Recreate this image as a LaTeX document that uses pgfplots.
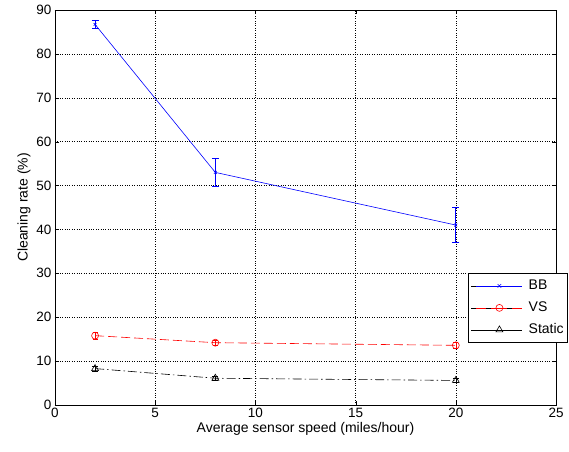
\documentclass[border=0pt]{standalone}
\usepackage{fontspec}
\setmainfont{Liberation Sans}
\usepackage{pgfplots}
\pgfplotsset{compat=1.18}
\begin{document}
\begin{tikzpicture}
\useasboundingbox (0pt,0pt) rectangle (569pt,451pt);
\begin{axis}[
  at={(55pt,46pt)}, anchor=south west,
  scale only axis, width=501pt, height=395pt,
  xmin=0, xmax=25, ymin=0, ymax=90,
  xtick={0,5,...,25}, ytick={0,10,...,90},
  tick align=inside, tick pos=both,
  major tick length=4pt,
  grid=major,
  major grid style={black, dotted, line width=0.5pt},
  axis line style={black, line width=0.6pt},
  tick style={black},
  ticklabel style={font=\fontsize{13.5}{14}\selectfont},
  /pgf/number format/assume math mode=true,
  xlabel={Average sensor speed (miles/hour)},
  ylabel={Cleaning rate (\%)},
  label style={font=\fontsize{14}{15}\selectfont},
  xlabel style={yshift=3pt},
  ylabel style={yshift=-1pt},
  legend style={at={(0.824,0.334)}, anchor=north west,
    font=\fontsize{14}{15}\selectfont, draw=black, line width=0.6pt,
    fill=white, inner xsep=3pt, inner ysep=5pt, row sep=7pt, column sep=5pt,
    nodes={inner sep=1pt, text height=10pt, text depth=3pt}},
  legend cell align=left,
]
% BB
\addplot[blue, line width=0.6pt, mark=x, mark size=2pt, forget plot,
  error bars/.cd, y dir=both, y explicit, error mark=-,
  error bar style={line width=0.8pt}, error mark options={rotate=90, mark size=3.5pt, line width=0.8pt}]
  coordinates {(2,86.7) +- (0,0.9) (8,53.0) +- (0,3.2) (20,41.0) +- (0,4.0)};
% VS
\addplot[red, line width=0.6pt, dash pattern=on 9pt off 4pt, mark=o, mark size=3.5pt,
  mark options={solid}, forget plot,
  error bars/.cd, y dir=both, y explicit, error mark=-,
  error bar style={solid, line width=0.6pt}, error mark options={rotate=90, mark size=2.5pt}]
  coordinates {(2,15.8) +- (0,0.8) (8,14.2) +- (0,0.6) (20,13.6) +- (0,0.6)};
% Static
\addplot[black, line width=0.6pt, dash pattern=on 9pt off 3pt on 1.5pt off 3pt, mark=triangle, mark size=4pt,
  mark options={solid}, forget plot,
  error bars/.cd, y dir=both, y explicit, error mark=-,
  error bar style={solid, line width=0.6pt}, error mark options={rotate=90, mark size=3pt}]
  coordinates {(2,8.3) +- (0,0.5) (8,6.1) +- (0,0.4) (20,5.6) +- (0,0.5)};
% legend entries, each with its own sample of the line style
\addlegendimage{legend image code/.code={
    \path (0pt,0pt) -- (51pt,0pt);
    \draw[blue, line width=0.6pt] (5pt,0pt) -- (51pt,0pt);
    \draw[blue, line width=0.6pt, mark=x, mark size=2.5pt] plot coordinates {(28pt,0pt)};
  }}
\addlegendentry{BB}
\addlegendimage{legend image code/.code={
    \path (0pt,0pt) -- (51pt,0pt);
    \draw[red, line width=0.6pt] (5pt,0pt) -- (15pt,0pt);
    \draw[red, line width=0.6pt] (20pt,0pt) -- (36pt,0pt);
    \draw[red, line width=0.6pt] (41pt,0pt) -- (51pt,0pt);
    \draw[red, line width=0.6pt, mark=o, mark size=3.5pt] plot coordinates {(28pt,0pt)};
  }}
\addlegendentry{VS}
\addlegendimage{legend image code/.code={
    \path (0pt,0pt) -- (51pt,0pt);
    \draw[black, line width=0.6pt] (5pt,0pt) -- (15pt,0pt);
    \draw[black, line width=0.6pt] (20pt,0pt) -- (36pt,0pt);
    \draw[black, line width=0.6pt] (41pt,0pt) -- (42.5pt,0pt);
    \draw[black, line width=0.6pt] (47pt,0pt) -- (48.5pt,0pt);
    \draw[black, line width=0.6pt, mark=triangle, mark size=4pt] plot coordinates {(28pt,0pt)};
  }}
\addlegendentry{Static}
\end{axis}
\end{tikzpicture}
\end{document}
